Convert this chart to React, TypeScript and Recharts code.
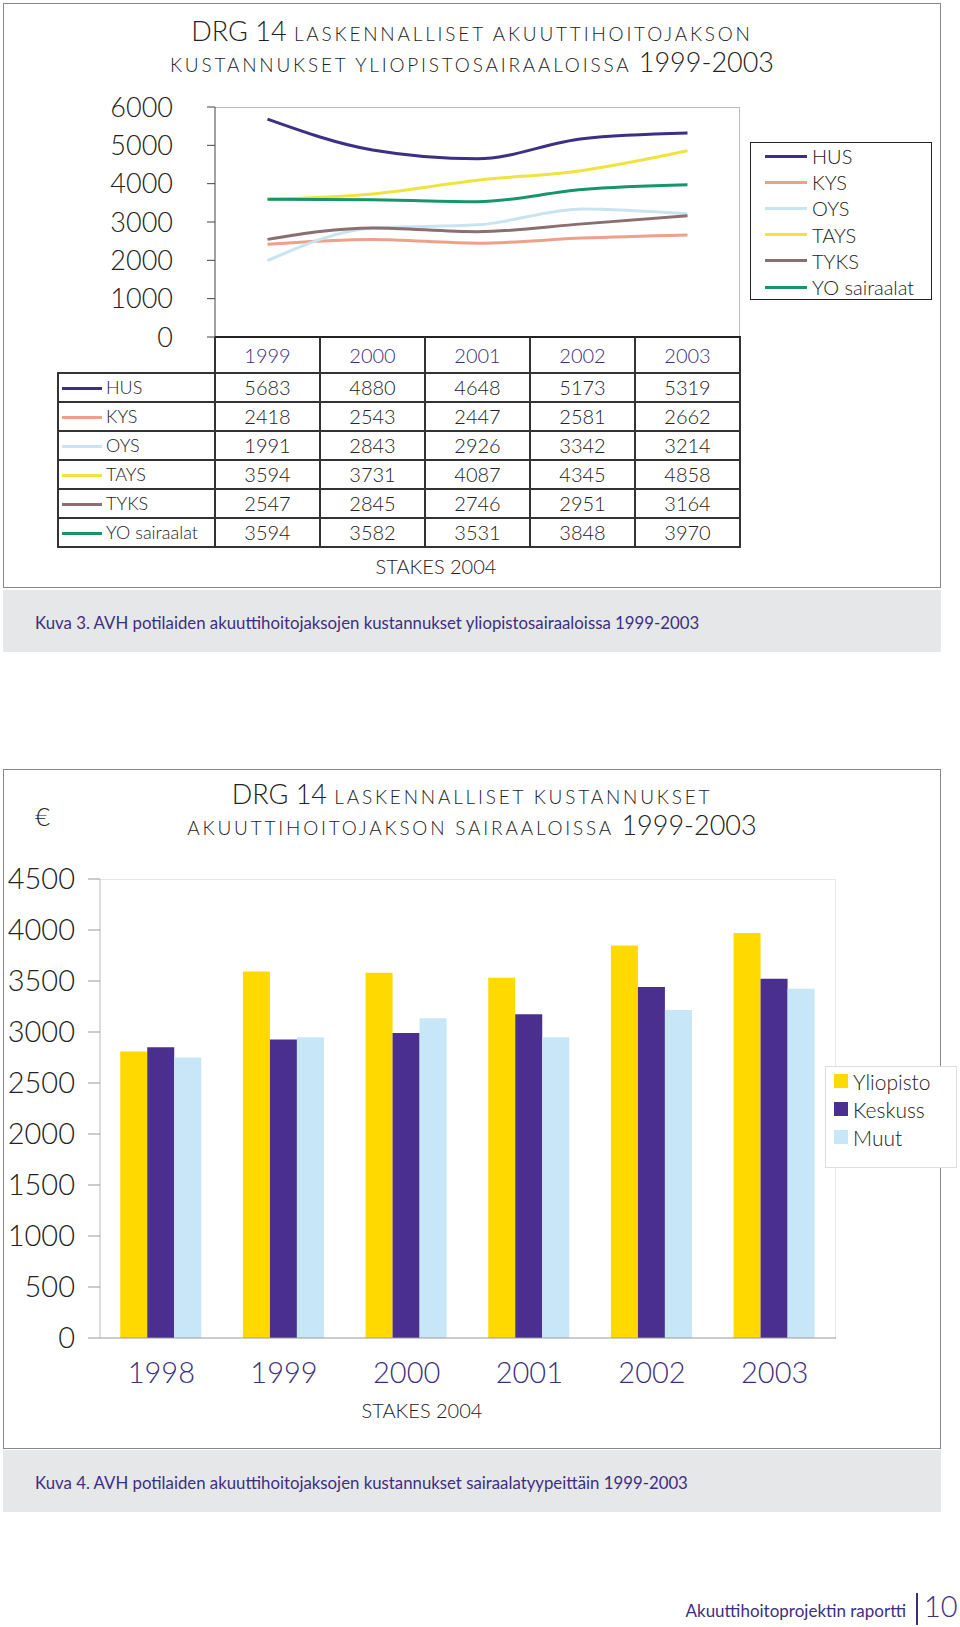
import React from 'react';
import { LineChart, Line, XAxis, YAxis, BarChart, Bar, Legend } from 'recharts';

const years = ['1999', '2000', '2001', '2002', '2003'];
const seriesNames = ['HUS', 'KYS', 'OYS', 'TAYS', 'TYKS', 'YO sairaalat'];
const hus = [5683, 4880, 4648, 5173, 5319];
const kys = [2418, 2543, 2447, 2581, 2662];
const oys = [1991, 2843, 2926, 3342, 3214];
const tays = [3594, 3731, 4087, 4345, 4858];
const tyks = [2547, 2845, 2746, 2951, 3164];
const yo = [3594, 3582, 3531, 3848, 3970];
const lineTicks = [0, 1000, 2000, 3000, 4000, 5000, 6000];

const barYears = ['1998', '1999', '2000', '2001', '2002', '2003'];
const barNames = ['Yliopisto', 'Keskuss', 'Muut'];
const yliopisto = [2810, 3594, 3582, 3531, 3848, 3970];
const keskuss = [2850, 2926, 2990, 3174, 3442, 3523];
const muut = [2750, 2948, 3135, 2948, 3216, 3423];
const barTicks = [0, 500, 1000, 1500, 2000, 2500, 3000, 3500, 4000, 4500];

const lineSeries = [hus, kys, oys, tays, tyks, yo];
const lineColors = ['#3b2f86', '#eea08a', '#c9e4f1', '#f0e43c', '#8c6e6e', '#17956a'];
const barSeries = [yliopisto, keskuss, muut];
const barColors = ['#ffd900', '#4a2f8e', '#c7e6f7'];

const lineData = years.map((y, i) => {
  const row: any = { year: y };
  seriesNames.forEach((n, k) => (row[n] = lineSeries[k][i]));
  return row;
});
const barData = barYears.map((y, i) => {
  const row: any = { year: y };
  barNames.forEach((n, k) => (row[n] = barSeries[k][i]));
  return row;
});

const FONT = "Lato, 'Open Sans', 'DejaVu Sans', sans-serif";
const PURPLE = '#3d2f80';
const TEXT = '#222';

const abs = (l: number, t: number, extra: any = {}): any => ({ position: 'absolute', left: l, top: t, ...extra });

function Title({ top, line1a, line1b, line2a, line2b }: any) {
  const small = { fontSize: 19, letterSpacing: 2.8, lineHeight: '30px' };
  const big = { fontSize: 27, lineHeight: '30px' };
  return (
    <div style={abs(0, top, { width: 944, textAlign: 'center', color: TEXT, fontWeight: 300 })}>
      <div style={{ height: 31, lineHeight: '30px', whiteSpace: 'nowrap' }}>
        <span style={big}>{line1a}</span>
        <span style={small}>{line1b}</span>
      </div>
      <div style={{ height: 31, lineHeight: '30px', whiteSpace: 'nowrap' }}>
        <span style={small}>{line2a}</span>
        <span style={big}>{line2b}</span>
      </div>
    </div>
  );
}

function LineLegend() {
  return (
    <div style={{ border: '1.5px solid #222', width: 182, height: 158, boxSizing: 'border-box', paddingTop: 0, background: '#fff' }}>
      {seriesNames.map((n, i) => (
        <div key={n} style={{ display: 'flex', alignItems: 'center', height: 26.2 }}>
          <div style={{ width: 42, height: 3, background: lineColors[i], marginLeft: 14 }} />
          <span style={{ fontSize: 20, marginLeft: 5, color: TEXT, fontWeight: 300 }}>{n}</span>
        </div>
      ))}
    </div>
  );
}

function BarLegend() {
  return (
    <div style={{ border: '1px solid #ddd', width: 132, height: 102, boxSizing: 'border-box', paddingTop: 0, background: '#fff' }}>
      {barNames.map((n, i) => (
        <div key={n} style={{ display: 'flex', alignItems: 'center', height: 28 }}>
          <div style={{ width: 14, height: 14, background: barColors[i], marginLeft: 8 }} />
          <span style={{ fontSize: 21, marginLeft: 5, color: TEXT, fontWeight: 300 }}>{n}</span>
        </div>
      ))}
    </div>
  );
}

const colX = [215, 320, 425, 530, 635, 740];
const rowY = [373, 402, 431, 460, 489, 518, 547];

export default function App() {
  return (
    <div style={{ position: 'absolute', left: 0, top: 0, width: 960, height: 1627, fontFamily: FONT, background: '#fff', overflow: 'hidden' }}>
      {/* Figure 3 frame */}
      <div style={abs(3, 3, { width: 938, height: 585, border: '1px solid #888', boxSizing: 'border-box' })} />
      <div style={abs(3, 590, { width: 938, height: 62, background: '#e6e7e9' })} />
      <div style={abs(35, 612, { fontSize: 16.8, color: PURPLE, whiteSpace: 'nowrap' })}>
        Kuva 3. AVH potilaiden akuuttihoitojaksojen kustannukset yliopistosairaaloissa 1999-2003
      </div>
      <Title top={16} line1a="DRG 14 " line1b="LASKENNALLISET AKUUTTIHOITOJAKSON" line2a="KUSTANNUKSET YLIOPISTOSAIRAALOISSA " line2b="1999-2003" />
      <div style={abs(215, 107, { width: 525, height: 230, borderTop: '1px solid #bbb', borderRight: '1px solid #bbb', boxSizing: 'border-box' })} />
      <div style={abs(0, 0)}>
        <LineChart width={960} height={365} data={lineData} margin={{ top: 107, right: 220, bottom: 28, left: 155 }}>
          <XAxis dataKey="year" hide padding={{ left: 52.5, right: 52.5 }} />
          <YAxis
            width={60}
            domain={[0, 6000]}
            ticks={lineTicks}
            interval={0}
            tick={{ fontSize: 27, fill: TEXT, fontFamily: FONT, fontWeight: 300 }}
            tickSize={8}
            tickMargin={34}
            axisLine={{ stroke: '#444' }}
            tickLine={{ stroke: '#444' }}
          />
          {seriesNames.map((n, i) => (
            <Line key={n} type="monotone" dataKey={n} stroke={lineColors[i]} strokeWidth={3} dot={false} isAnimationActive={false} />
          ))}
          <Legend
            layout="vertical"
            align="center"
            verticalAlign="middle"
            wrapperStyle={{ left: 750, top: 142, width: 182, height: 158 }}
            content={() => <LineLegend />}
          />
        </LineChart>
      </div>
      {/* Data table */}
      <div style={abs(215, 336, { width: 526, height: 2, background: '#222' })} />
      {years.map((y, c) => (
        <div key={y} style={abs(colX[c], 338, { width: 105, height: 34, textAlign: 'center', lineHeight: '34px', fontSize: 20, color: PURPLE, fontWeight: 300 })}>{y}</div>
      ))}
      {colX.map((x, c) => (
        <div key={'v' + c} style={abs(x - 1, 337, { width: 2, height: 211, background: '#333' })} />
      ))}
      <div style={abs(57, rowY[0] - 1, { width: 2, height: rowY[6] - rowY[0] + 2, background: '#333' })} />
      {rowY.map((y, r) => (
        <div key={'h' + r} style={abs(57, y - 1, { width: 684, height: 2, background: '#333' })} />
      ))}
      {seriesNames.map((n, r) => (
        <React.Fragment key={n}>
          <div style={abs(62, rowY[r] + 14, { width: 40, height: 2.5, background: lineColors[r] })} />
          <div style={abs(106, rowY[r], { height: 29, lineHeight: '29px', fontSize: 18, color: TEXT, fontWeight: 300, whiteSpace: 'nowrap' })}>{n}</div>
          {lineSeries[r].map((v, c) => (
            <div key={c} style={abs(colX[c], rowY[r], { width: 105, height: 29, lineHeight: '29px', textAlign: 'center', fontSize: 20, color: TEXT, fontWeight: 300 })}>{v}</div>
          ))}
        </React.Fragment>
      ))}
      <div style={abs(336, 554, { width: 200, textAlign: 'center', fontSize: 20, color: TEXT, fontWeight: 300 })}>STAKES 2004</div>

      {/* Figure 4 frame */}
      <div style={abs(3, 769, { width: 938, height: 680, border: '1px solid #888', boxSizing: 'border-box' })} />
      <div style={abs(3, 1450, { width: 938, height: 62, background: '#e6e7e9' })} />
      <div style={abs(35, 1472, { fontSize: 16.8, color: PURPLE, whiteSpace: 'nowrap' })}>
        Kuva 4. AVH potilaiden akuuttihoitojaksojen kustannukset sairaalatyypeittäin 1999-2003
      </div>
      <Title top={779} line1a="DRG 14 " line1b="LASKENNALLISET KUSTANNUKSET" line2a="AKUUTTIHOITOJAKSON SAIRAALOISSA " line2b="1999-2003" />
      <div style={abs(35, 800, { fontSize: 26, color: TEXT, fontWeight: 300 })}>€</div>
      <div style={abs(100, 879, { width: 736, height: 459, borderTop: '1px solid #e6e6e6', borderRight: '1px solid #e6e6e6', boxSizing: 'border-box' })} />
      <div style={abs(0, 840)}>
        <BarChart width={960} height={560} data={barData} margin={{ top: 39, right: 124, bottom: 12, left: 0 }} barCategoryGap="16.5%" barGap={0}>
          <XAxis
            dataKey="year"
            height={50}
            tick={{ fontSize: 29, fill: PURPLE, fontFamily: FONT, fontWeight: 300 }}
            tickSize={10}
            tickMargin={14}
            tickLine={false}
            axisLine={{ stroke: '#999' }}
          />
          <YAxis
            width={100}
            domain={[0, 4500]}
            ticks={barTicks}
            interval={0}
            tick={{ fontSize: 29, fill: TEXT, fontFamily: FONT, fontWeight: 300 }}
            tickSize={12}
            tickMargin={13}
            axisLine={{ stroke: '#bbb' }}
            tickLine={{ stroke: '#999' }}
          />
          {barNames.map((n, i) => (
            <Bar key={n} dataKey={n} fill={barColors[i]} isAnimationActive={false} />
          ))}
          <Legend
            layout="vertical"
            align="center"
            verticalAlign="middle"
            wrapperStyle={{ left: 825, top: 226, width: 132, height: 102 }}
            content={() => <BarLegend />}
          />
        </BarChart>
      </div>
      <div style={abs(322, 1398, { width: 200, textAlign: 'center', fontSize: 20, color: TEXT, fontWeight: 300 })}>STAKES 2004</div>

      {/* Footer */}
      <div style={abs(600, 1600, { width: 306, textAlign: 'right', fontSize: 17, color: PURPLE, whiteSpace: 'nowrap' })}>Akuuttihoitoprojektin raportti</div>
      <div style={abs(916, 1593, { width: 1.5, height: 32, background: PURPLE })} />
      <div style={abs(924, 1588, { fontSize: 29, color: PURPLE, fontWeight: 300 })}>10</div>
    </div>
  );
}
